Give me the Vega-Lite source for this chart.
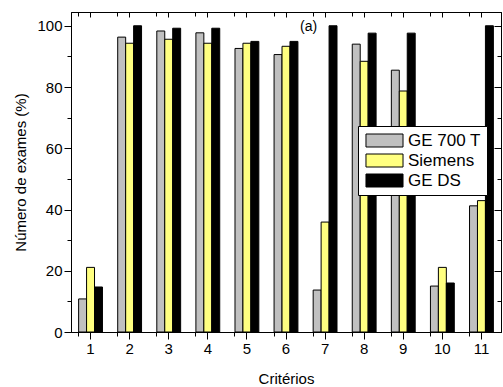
{
  "$schema": "https://vega.github.io/schema/vega-lite/v6.json",
  "width": 430,
  "height": 320,
  "autosize": {"type": "none"},
  "padding": {"left": 71, "top": 12, "right": 2, "bottom": 55},
  "background": "white",
  "config": {
    "font": "Liberation Sans",
    "view": {"stroke": "black", "strokeWidth": 1},
    "axis": {"domainColor": "black", "tickColor": "black", "labelColor": "black", "titleColor": "black", "grid": false, "labelFont": "Liberation Sans", "titleFont": "Liberation Sans", "titleFontWeight": "normal"}
  },
  "title": {"text": "(a)", "anchor": "start", "frame": "group", "dx": 229, "offset": -22, "fontSize": 14, "fontWeight": "normal", "color": "black", "font": "Liberation Sans"},
  "data": {"values": [
    {"crit": 1, "series": "GE 700 T", "value": 10.8},
    {"crit": 1, "series": "Siemens", "value": 21.1},
    {"crit": 1, "series": "GE DS", "value": 14.7},
    {"crit": 2, "series": "GE 700 T", "value": 96.3},
    {"crit": 2, "series": "Siemens", "value": 94.3},
    {"crit": 2, "series": "GE DS", "value": 100},
    {"crit": 3, "series": "GE 700 T", "value": 98.3},
    {"crit": 3, "series": "Siemens", "value": 95.6},
    {"crit": 3, "series": "GE DS", "value": 99.2},
    {"crit": 4, "series": "GE 700 T", "value": 97.7},
    {"crit": 4, "series": "Siemens", "value": 94.3},
    {"crit": 4, "series": "GE DS", "value": 99.2},
    {"crit": 5, "series": "GE 700 T", "value": 92.6},
    {"crit": 5, "series": "Siemens", "value": 94.3},
    {"crit": 5, "series": "GE DS", "value": 94.9},
    {"crit": 6, "series": "GE 700 T", "value": 90.6},
    {"crit": 6, "series": "Siemens", "value": 93.3},
    {"crit": 6, "series": "GE DS", "value": 94.9},
    {"crit": 7, "series": "GE 700 T", "value": 13.7},
    {"crit": 7, "series": "Siemens", "value": 35.9},
    {"crit": 7, "series": "GE DS", "value": 100},
    {"crit": 8, "series": "GE 700 T", "value": 94.0},
    {"crit": 8, "series": "Siemens", "value": 88.4},
    {"crit": 8, "series": "GE DS", "value": 97.6},
    {"crit": 9, "series": "GE 700 T", "value": 85.5},
    {"crit": 9, "series": "Siemens", "value": 78.7},
    {"crit": 9, "series": "GE DS", "value": 97.6},
    {"crit": 10, "series": "GE 700 T", "value": 15.0},
    {"crit": 10, "series": "Siemens", "value": 21.1},
    {"crit": 10, "series": "GE DS", "value": 16.0},
    {"crit": 11, "series": "GE 700 T", "value": 41.2},
    {"crit": 11, "series": "Siemens", "value": 42.9},
    {"crit": 11, "series": "GE DS", "value": 100}
  ]},
  "layer": [
    {
      "mark": {"type": "bar", "stroke": "black", "strokeWidth": 1},
      "encoding": {
        "x": {"field": "crit", "type": "ordinal", "scale": {"paddingInner": 0.39, "paddingOuter": 0.195},
          "axis": {"orient": "bottom", "labelAngle": 0, "labelFontSize": 15, "tickSize": 7, "labelPadding": 2, "title": "Critérios", "titleFontSize": 15, "titlePadding": 15}},
        "xOffset": {"field": "series", "type": "nominal", "sort": ["GE 700 T", "Siemens", "GE DS"], "scale": {"paddingInner": 0, "paddingOuter": 0}},
        "y": {"field": "value", "type": "quantitative", "scale": {"domain": [0, 104.5], "nice": false, "zero": true},
          "axis": {"orient": "left", "values": [0, 10, 20, 30, 40, 50, 60, 70, 80, 90, 100], "labelExpr": "datum.value % 20 === 0 ? datum.label : ''", "tickSize": {"condition": {"test": "datum.value % 20 === 0", "value": 7}, "value": 4}, "labelFontSize": 15, "labelPadding": 2, "title": "Número de exames (%)", "titleFontSize": 15, "titlePadding": 8}},
        "color": {"field": "series", "type": "nominal", "sort": ["GE 700 T", "Siemens", "GE DS"],
          "scale": {"domain": ["GE 700 T", "Siemens", "GE DS"], "range": ["#c0c0c0", "#ffff80", "#000000"]},
          "legend": {"orient": "none", "legendX": 287, "legendY": 114, "title": null, "strokeColor": "black", "fillColor": "white", "padding": 6, "symbolType": "M-2.85,-1H2.85V1H-2.85Z", "symbolSize": 169, "symbolOffset": 12, "symbolStrokeColor": "black", "symbolStrokeWidth": 1, "symbolOpacity": 1, "labelFontSize": 17, "labelColor": "black", "labelFont": "Liberation Sans", "labelOffset": 15, "rowPadding": 2, "cornerRadius": 0}}
      }
    },
    {
      "mark": {"type": "point", "opacity": 0},
      "encoding": {
        "x": {"field": "crit", "type": "ordinal", "axis": {"orient": "bottom", "bandPosition": 0, "labels": false, "tickSize": 4, "domain": false, "title": null}},
        "y": {"field": "value", "type": "quantitative", "axis": {"orient": "right", "values": [0, 10, 20, 30, 40, 50, 60, 70, 80, 90, 100], "labels": false, "tickSize": {"condition": {"test": "datum.value % 20 === 0", "value": -7}, "value": -4}, "title": null}}
      }
    },
    {
      "mark": {"type": "point", "opacity": 0},
      "encoding": {
        "x": {"field": "crit", "type": "ordinal", "axis": {"orient": "top", "labels": false, "tickSize": -5, "title": null}}
      }
    },
    {
      "mark": {"type": "point", "opacity": 0},
      "encoding": {
        "x": {"field": "crit", "type": "ordinal", "axis": {"orient": "top", "bandPosition": 0, "labels": false, "tickSize": -4, "domain": false, "title": null}}
      }
    }
  ],
  "resolve": {"axis": {"x": "independent", "y": "independent"}}
}
